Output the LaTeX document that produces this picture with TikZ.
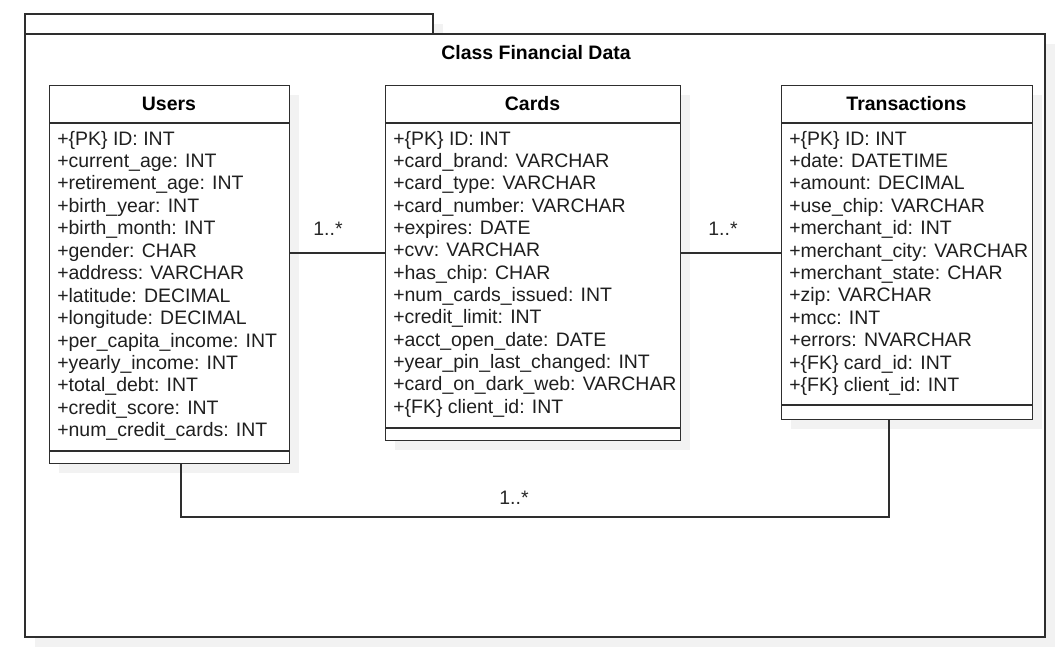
\documentclass[tikz,border=0pt]{standalone}
\usepackage{fontspec}
\setmainfont{Liberation Sans}
\definecolor{ln}{HTML}{2E2E2E}
\definecolor{shd}{HTML}{F2F2F2}
\begin{document}
\begin{tikzpicture}[x=0.75pt,y=-0.75pt,
  frame/.style={draw=ln, line width=1.3pt, fill=white},
  classbox/.style={draw=ln, line width=1.1pt, fill=white, rectangle, inner sep=0pt, anchor=north west},
  attr/.style={font=\fontsize{14.6pt}{17pt}\selectfont, inner sep=0pt, anchor=base west, text=black!88},
  head/.style={font=\fontsize{14.6pt}{17pt}\selectfont\bfseries, inner sep=0pt, text=black},
  lbl/.style={font=\fontsize{14.6pt}{17pt}\selectfont, inner sep=0pt, text=black!85},
  conn/.style={draw=ln, line width=1.1pt}]
\useasboundingbox (0,0) rectangle (1064,651);
\fill[white] (0,0) rectangle (1064,651);
% package frame
\fill[shd] (35,24) rectangle (443,44);
\fill[shd] (35,44) rectangle (1055,647);
\draw[frame] (25,14) rectangle (433,34);
\draw[frame] (25,34) rectangle (1045,637);
\node[head] (title) at (536,53) {Class Financial Data};
% Users
\fill[shd] (59,95) rectangle (299,473);
\node[classbox, minimum width=180pt, minimum height=283.5pt] (Users) at (49,85) {};
\draw[conn] (49,123) -- (289,123);
\draw[conn] (49,451) -- (289,451);
\node[head] (usersh) at (169,104) {Users};
\foreach \t [count=\i] in {+\{PK\} ID: INT, +current\_age: INT, +retirement\_age: INT, +birth\_year: INT, +birth\_month: INT, +gender: CHAR, +address: VARCHAR, +latitude: DECIMAL, +longitude: DECIMAL, +per\_capita\_income: INT, +yearly\_income: INT, +total\_debt: INT, +credit\_score: INT, +num\_credit\_cards: INT}
  \node[attr] (u\i) at (57,{145+(\i-1)*22.45}) {\t};
% Cards
\fill[shd] (395,95) rectangle (690,450);
\node[classbox, minimum width=221.25pt, minimum height=266.25pt] (Cards) at (385,85) {};
\draw[conn] (385,123) -- (680,123);
\draw[conn] (385,428) -- (680,428);
\node[head] (cardsh) at (532.5,104) {Cards};
\foreach \t [count=\i] in {+\{PK\} ID: INT, +card\_brand: VARCHAR, +card\_type: VARCHAR, +card\_number: VARCHAR, +expires: DATE, +cvv: VARCHAR, +has\_chip: CHAR, +num\_cards\_issued: INT, +credit\_limit: INT, +acct\_open\_date: DATE, +year\_pin\_last\_changed: INT, +card\_on\_dark\_web: VARCHAR, +\{FK\} client\_id: INT}
  \node[attr] (c\i) at (393,{145+(\i-1)*22.35}) {\t};
% Transactions
\fill[shd] (791,95) rectangle (1042,429);
\node[classbox, minimum width=188.25pt, minimum height=250.5pt] (Trans) at (781,85) {};
\draw[conn] (781,123) -- (1032,123);
\draw[conn] (781,405) -- (1032,405);
\node[head] (transh) at (906.5,104) {Transactions};
\foreach \t [count=\i] in {+\{PK\} ID: INT, +date: DATETIME, +amount: DECIMAL, +use\_chip: VARCHAR, +merchant\_id: INT, +merchant\_city: VARCHAR, +merchant\_state: CHAR, +zip: VARCHAR, +mcc: INT, +errors: NVARCHAR, +\{FK\} card\_id: INT, +\{FK\} client\_id: INT}
  \node[attr] (t\i) at (789,{145+(\i-1)*22.4}) {\t};
% connectors
\draw[conn] (Users.east |- 0,253) -- (Cards.west |- 0,253);
\draw[conn] (Cards.east |- 0,253) -- (Trans.west |- 0,253);
\coordinate (tA) at (889,419);
\coordinate (uA) at (181,463);
\draw[conn] (tA) |- (uA |- 0,517) -- (uA);
\node[lbl] (m1) at (328,229) {1..*};
\node[lbl] (m2) at (723,229) {1..*};
\node[lbl] (m3) at (514,498) {1..*};
\end{tikzpicture}
\end{document}
